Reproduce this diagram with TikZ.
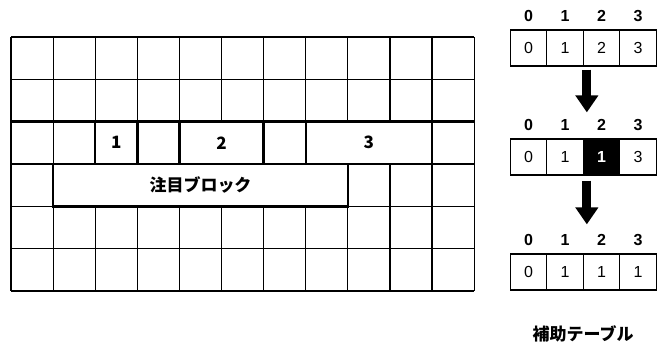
\documentclass[tikz,border=0pt]{standalone}
\usepackage{fontspec}
\setmainfont{Liberation Sans}
\newfontfamily\jpfont{Noto Sans CJK JP}
\usetikzlibrary{arrows.meta, positioning}

\tikzset{
  gridline/.style={line width=1.2pt, black},
  blockbox/.style={draw, fill=white, line width=2.4pt, inner sep=0pt,
                   minimum height=42.3pt, font=\jpfont\bfseries\fontsize{17}{17}\selectfont},
  tabcell/.style={draw, line width=1.2pt, minimum width=36.5pt, minimum height=36pt,
                  inner sep=0pt, font=\fontsize{16}{16}\selectfont},
  tabhead/.style={inner sep=0pt, font=\bfseries\fontsize{16}{16}\selectfont},
  fatarrow/.style={line width=9pt, -{Triangle[length=17pt, width=22pt]}},
}

\begin{document}
\begin{tikzpicture}[x=1pt, y=-1pt]
\useasboundingbox (0,0) rectangle (657,344);

% ── LEFT: grid ───────────────────────────────────────────────────
\foreach \i in {0,...,11}
    \draw[gridline] (11+42.1*\i, 37) -- (11+42.1*\i, 291);
\foreach \j in {0,...,6}
    \draw[gridline] (11, 37+42.33*\j) -- (474, 37+42.33*\j);
\draw[line width=2.4pt] (11, 121.7) -- (474, 121.7);

% blocks
\node[blockbox, minimum width=42.1pt]  (blkone)   at (116.3, 142.8) {1};
\node[blockbox, minimum width=84.2pt]  (blktwo)   at (221.5, 142.8) {2};
\node[blockbox, minimum width=126.3pt] (blkthree) at (368.9, 142.8) {3};
\node[blockbox, minimum width=294.7pt] (focus)    at (200.5, 185.2) {注目ブロック};

% ── RIGHT: helper tables ─────────────────────────────────────────
\foreach \v [count=\k from 0] in {0,1,2,3} {
    \node[tabcell] (ta\k) at (528.5+36.5*\k, 48) {\v};
    \node[tabhead] (ha\k) at (528.5+36.5*\k, 16) {\k};
}
\foreach \v [count=\k from 0] in {0,1,1,3} {
    \node[tabcell] (tb\k) at (528.5+36.5*\k, 157) {\v};
    \node[tabhead] (hb\k) at (528.5+36.5*\k, 125) {\k};
}
\node[tabcell, fill=black, text=white, font=\bfseries\fontsize{16}{16}\selectfont] at (tb2) {1};
\foreach \v [count=\k from 0] in {0,1,1,1} {
    \node[tabcell] (tc\k) at (528.5+36.5*\k, 272) {\v};
    \node[tabhead] (hc\k) at (528.5+36.5*\k, 240) {\k};
}

% arrows between tables
\draw[fatarrow] ([xshift=3pt, yshift=-3pt]ta1.south east) -- ([xshift=3pt, yshift=26pt]tb1.north east);
\draw[fatarrow] ([xshift=3pt, yshift=-5pt]tb1.south east) -- ([xshift=3pt, yshift=29pt]tc1.north east);

\node[font=\jpfont\bfseries\fontsize{17}{17}\selectfont] (helper) at (583, 334) {補助テーブル};

\end{tikzpicture}
\end{document}
